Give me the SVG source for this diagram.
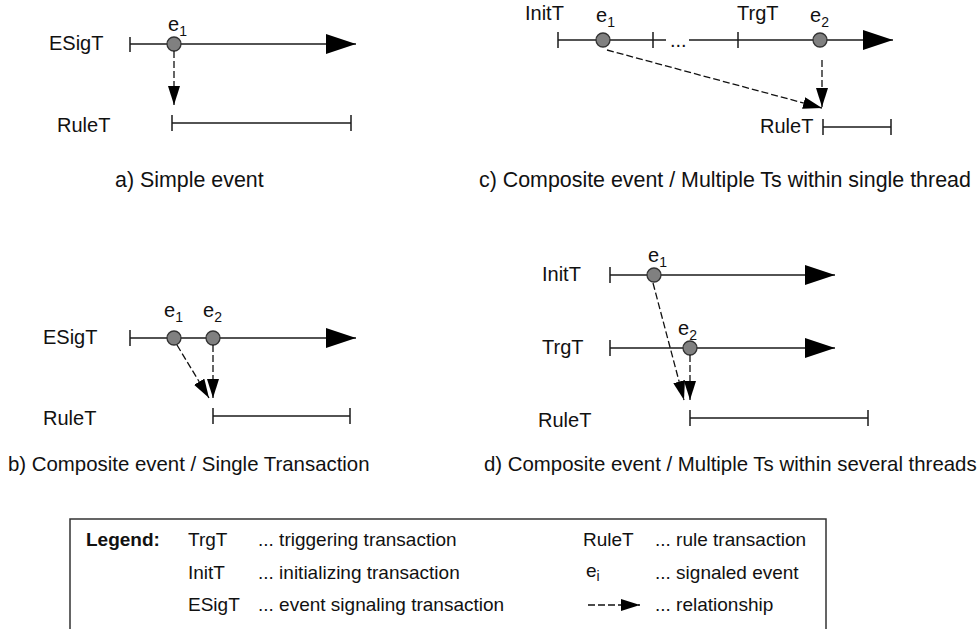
<svg xmlns="http://www.w3.org/2000/svg" width="979" height="629" viewBox="0 0 979 629">
  <style>
    text { font-family: "Liberation Sans", Arial, sans-serif; fill: #111; }
    .lbl { font-size: 20px; }
    .cap-top { font-size: 21.4px; }
    .cap-bot { font-size: 20.4px; }
    .sub { font-size: 14px; }
    .leg { font-size: 19px; }
    .bold { font-weight: bold; }
    .tl { stroke: #1a1a1a; stroke-width: 1.5; fill: none; }
    .tick { stroke: #1a1a1a; stroke-width: 1.5; }
    .tl-arrow { stroke: #1a1a1a; stroke-width: 1.5; fill: none; marker-end: url(#bigHead); }
    .rel { stroke: #111; stroke-width: 1.3; stroke-dasharray: 7 3; fill: none; marker-end: url(#smallHead); }
    .ev { fill: #808080; stroke: #333; stroke-width: 1.3; }
    .box { fill: none; stroke: #333; stroke-width: 1.5; }
  </style>
  <defs>
    <marker id="bigHead" markerUnits="userSpaceOnUse" markerWidth="30" markerHeight="20" viewBox="0 0 30 20" refX="30" refY="10" orient="auto">
      <path d="M0,0 L30,10 L0,20 z" fill="#000"/>
    </marker>
    <marker id="smallHead" markerUnits="userSpaceOnUse" markerWidth="19" markerHeight="12" viewBox="0 0 19 12" refX="19" refY="6" orient="auto">
      <path d="M0,0 L19,6 L0,12 z" fill="#000"/>
    </marker>
  </defs>

  <!-- a) simple event -->
  <g id="panel-a">
    <g id="a-esigt">
      <text class="lbl" x="49" y="50">ESigT</text>
      <line class="tick" x1="130" y1="37" x2="130" y2="52"/>
      <line class="tl-arrow" x1="130" y1="44" x2="356" y2="44"/>
    </g>
    <g id="a-e1">
      <text class="lbl" x="168" y="31">e<tspan class="sub" dy="5">1</tspan></text>
      <circle class="ev" cx="174" cy="44" r="7"/>
    </g>
    <g id="a-rulet">
      <text class="lbl" x="57" y="132">RuleT</text>
      <line class="tl" x1="172" y1="123" x2="351" y2="123"/>
      <line class="tick" x1="172" y1="115" x2="172" y2="131"/>
      <line class="tick" x1="351" y1="115" x2="351" y2="131"/>
    </g>
    <text class="cap-top" x="115" y="187">a) Simple event</text>
  </g>

  <!-- b) composite event, single transaction -->
  <g id="panel-b">
    <g id="b-esigt">
      <text class="lbl" x="43" y="344">ESigT</text>
      <line class="tick" x1="130" y1="330" x2="130" y2="346"/>
      <line class="tl-arrow" x1="130" y1="338" x2="356" y2="338"/>
    </g>
    <g id="b-e1">
      <text class="lbl" x="164" y="317">e<tspan class="sub" dy="5">1</tspan></text>
      <circle class="ev" cx="174" cy="338" r="7"/>
    </g>
    <g id="b-e2">
      <text class="lbl" x="203" y="317">e<tspan class="sub" dy="5">2</tspan></text>
      <circle class="ev" cx="213" cy="338" r="7"/>
    </g>
    <g id="b-rulet">
      <text class="lbl" x="43" y="425">RuleT</text>
      <line class="tl" x1="213" y1="416" x2="350" y2="416"/>
      <line class="tick" x1="213" y1="408" x2="213" y2="424"/>
      <line class="tick" x1="350" y1="408" x2="350" y2="424"/>
    </g>
    <text class="cap-bot" x="8" y="471">b) Composite event / Single Transaction</text>
  </g>

  <!-- c) composite event, multiple transactions in one thread -->
  <g id="panel-c">
    <g id="c-thread">
      <text class="lbl" x="525" y="20">InitT</text>
      <text class="lbl" x="737" y="20">TrgT</text>
      <line class="tl" x1="558" y1="40" x2="666" y2="40"/>
      <text class="lbl" x="670" y="47">...</text>
      <line class="tl-arrow" x1="689" y1="40" x2="893" y2="40"/>
      <line class="tick" x1="558" y1="32" x2="558" y2="48"/>
      <line class="tick" x1="653" y1="32" x2="653" y2="48"/>
      <line class="tick" x1="738" y1="32" x2="738" y2="48"/>
    </g>
    <g id="c-e1">
      <text class="lbl" x="596" y="22">e<tspan class="sub" dy="5">1</tspan></text>
      <circle class="ev" cx="603" cy="40" r="7"/>
    </g>
    <g id="c-e2">
      <text class="lbl" x="810" y="22">e<tspan class="sub" dy="5">2</tspan></text>
      <circle class="ev" cx="820" cy="40" r="7"/>
    </g>
    <g id="c-rulet">
      <text class="lbl" x="760" y="133">RuleT</text>
      <line class="tl" x1="823" y1="127" x2="891" y2="127"/>
      <line class="tick" x1="823" y1="119" x2="823" y2="135"/>
      <line class="tick" x1="891" y1="119" x2="891" y2="135"/>
    </g>
    <text class="cap-top" x="479" y="187">c) Composite event / Multiple Ts within single thread</text>
  </g>

  <!-- d) composite event, multiple transactions in several threads -->
  <g id="panel-d">
    <g id="d-initt">
      <text class="lbl" x="542" y="281">InitT</text>
      <line class="tick" x1="610" y1="267" x2="610" y2="283"/>
      <line class="tl-arrow" x1="610" y1="275" x2="835" y2="275"/>
    </g>
    <g id="d-e1">
      <text class="lbl" x="648" y="262">e<tspan class="sub" dy="5">1</tspan></text>
      <circle class="ev" cx="654" cy="275" r="7"/>
    </g>
    <g id="d-trgt">
      <text class="lbl" x="542" y="354">TrgT</text>
      <line class="tick" x1="610" y1="340" x2="610" y2="356"/>
      <line class="tl-arrow" x1="610" y1="348" x2="835" y2="348"/>
    </g>
    <g id="d-e2">
      <text class="lbl" x="678" y="335">e<tspan class="sub" dy="5">2</tspan></text>
      <circle class="ev" cx="690" cy="348" r="7"/>
    </g>
    <g id="d-rulet">
      <text class="lbl" x="538" y="427">RuleT</text>
      <line class="tl" x1="690" y1="418" x2="868" y2="418"/>
      <line class="tick" x1="690" y1="410" x2="690" y2="426"/>
      <line class="tick" x1="868" y1="410" x2="868" y2="426"/>
    </g>
    <text class="cap-bot" x="484" y="471">d) Composite event / Multiple Ts within several threads</text>
  </g>

  <!-- event-to-rule relationships -->
  <g id="connectors">
    <line class="rel" x1="174" y1="51" x2="174" y2="105"/>
    <line class="rel" x1="177" y1="345" x2="209" y2="398"/>
    <line class="rel" x1="213" y1="345" x2="213" y2="398"/>
    <line class="rel" x1="607" y1="50" x2="822" y2="108"/>
    <line class="rel" x1="822" y1="60" x2="822" y2="107"/>
    <line class="rel" x1="653" y1="283" x2="684" y2="400"/>
    <line class="rel" x1="690" y1="355" x2="690" y2="400"/>
  </g>

  <!-- legend -->
  <g id="legend">
    <rect class="box" x="70" y="519" width="756" height="130"/>
    <text class="leg bold" x="86" y="546">Legend:</text>
    <text class="leg" x="188" y="546">TrgT</text>
    <text class="leg" x="258" y="546">... triggering transaction</text>
    <text class="leg" x="188" y="579">InitT</text>
    <text class="leg" x="258" y="579">... initializing transaction</text>
    <text class="leg" x="188" y="611">ESigT</text>
    <text class="leg" x="258" y="611">... event signaling transaction</text>
    <text class="leg" x="583" y="546">RuleT</text>
    <text class="leg" x="655" y="546">... rule transaction</text>
    <text class="leg" x="586" y="577">e<tspan class="sub" dy="4">i</tspan></text>
    <text class="leg" x="655" y="579">... signaled event</text>
    <line class="rel" x1="588" y1="605" x2="640" y2="605"/>
    <text class="leg" x="655" y="611">... relationship</text>
  </g>
</svg>
